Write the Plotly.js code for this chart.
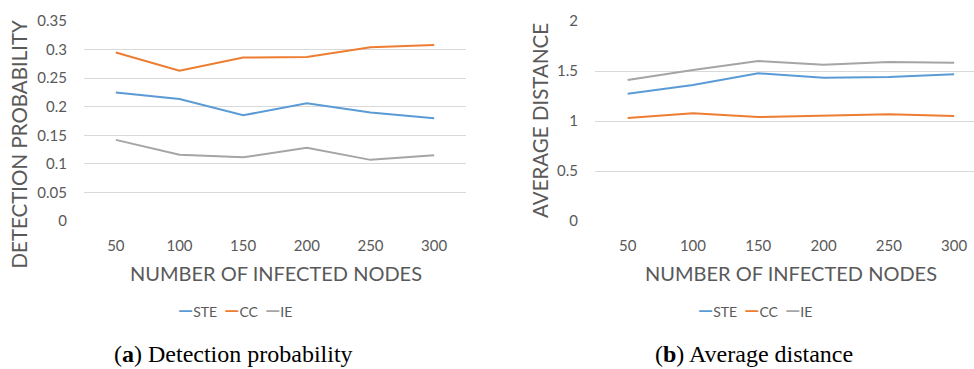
<!DOCTYPE html>
<html>
<head>
<meta charset="utf-8">
<script src="https://cdn.plot.ly/plotly-3.0.1.min.js"></script>
<style>html,body{margin:0;padding:0;background:#fff;}#chart{width:974px;height:369px;}</style>
</head>
<body>
<div id="chart"></div>
<script>
var categories = ["50", "100", "150", "200", "250", "300"];
var seriesNames = ["STE", "CC", "IE"];
var seriesColors = ["#5B9BD5", "#ED7D31", "#A5A5A5"];

// (a) Detection probability
var probSTE = [0.225, 0.2135, 0.185, 0.206, 0.190, 0.180];
var probCC  = [0.295, 0.263, 0.286, 0.287, 0.304, 0.308];
var probIE  = [0.142, 0.116, 0.1115, 0.128, 0.107, 0.115];

// (b) Average distance
var distSTE = [1.273, 1.36, 1.477, 1.433, 1.44, 1.467];
var distCC  = [1.03, 1.077, 1.04, 1.057, 1.067, 1.05];
var distIE  = [1.41, 1.51, 1.60, 1.563, 1.59, 1.583];

var probTicks = [0, 0.05, 0.1, 0.15, 0.2, 0.25, 0.3, 0.35];
var distTicks = [0, 0.5, 1, 1.5, 2];

var xTitle = "NUMBER OF INFECTED NODES";
var yTitleA = "DETECTION PROBABILITY";
var yTitleB = "AVERAGE DISTANCE";
var captionA = "(<b>a</b>) Detection probability";
var captionB = "(<b>b</b>) Average distance";

var W = 974, H = 369;
var textColor = "#595959";
var gridColor = "#D9D9D9";
var sans = "Lato, 'Open Sans', sans-serif";
var serif = "'Liberation Serif', 'DejaVu Serif', serif";

function px(x) { return x / W; }
function py(y) { return 1 - y / H; }

var probSets = [probSTE, probCC, probIE];
var distSets = [distSTE, distCC, distIE];
var traces = [];
probSets.forEach(function (vals, i) {
  traces.push({x: categories, y: vals, type: "scatter", mode: "lines", name: seriesNames[i],
    line: {color: seriesColors[i], width: 2}, xaxis: "x", yaxis: "y", showlegend: false, hoverinfo: "x+y+name"});
});
distSets.forEach(function (vals, i) {
  traces.push({x: categories, y: vals, type: "scatter", mode: "lines", name: seriesNames[i],
    line: {color: seriesColors[i], width: 2}, xaxis: "x2", yaxis: "y2", showlegend: false, hoverinfo: "x+y+name"});
});

function legendText() {
  return seriesNames.map(function (n, i) {
    return "<span style='color:" + seriesColors[i] + ";font-size:19px;font-weight:bold'>\u2014</span>" + n;
  }).join("&nbsp;&nbsp;");
}

var plotTop = 21, plotBottom = 221;
var yDomain = [py(plotBottom), py(plotTop)];

var axisFont = {family: sans, size: 15, color: textColor};
var layout = {
  width: W, height: H,
  margin: {l: 0, r: 0, t: 0, b: 0},
  paper_bgcolor: "#fff", plot_bgcolor: "#fff",
  showlegend: false,
  xaxis: {domain: [px(84), px(466)], type: "category", range: [-0.5, 5.5], showgrid: false,
    showline: false, zeroline: false, ticks: "", tickfont: axisFont, ticklabelstandoff: 14, anchor: "y", fixedrange: true},
  yaxis: {domain: yDomain, range: [0, 0.35], tickvals: probTicks, showgrid: true, gridcolor: gridColor, gridwidth: 1,
    zeroline: false, showline: false, ticks: "", tickfont: axisFont, ticklabelstandoff: 16, anchor: "x", fixedrange: true},
  xaxis2: {domain: [px(595), 1], type: "category", range: [-0.5, 5.304], showgrid: false,
    showline: false, zeroline: false, ticks: "", tickfont: axisFont, ticklabelstandoff: 14, anchor: "y2", fixedrange: true},
  yaxis2: {domain: yDomain, range: [0, 2], tickvals: distTicks, showgrid: true, gridcolor: gridColor, gridwidth: 1,
    zeroline: false, showline: false, ticks: "", tickfont: axisFont, ticklabelstandoff: 16, anchor: "x2", fixedrange: true},
  annotations: [
    {text: xTitle, xref: "paper", yref: "paper", x: px(275.5), y: py(272.7), xanchor: "center", yanchor: "middle",
      showarrow: false, font: {family: sans, size: 20, color: textColor}},
    {text: xTitle, xref: "paper", yref: "paper", x: px(790.8), y: py(272.7), xanchor: "center", yanchor: "middle",
      showarrow: false, font: {family: sans, size: 20, color: textColor}},
    {text: yTitleA, xref: "paper", yref: "paper", x: px(18), y: py(144.5), xanchor: "center", yanchor: "middle",
      textangle: -90, showarrow: false, font: {family: sans, size: 20.5, color: textColor}},
    {text: yTitleB, xref: "paper", yref: "paper", x: px(540), y: py(121), xanchor: "center", yanchor: "middle",
      textangle: -90, showarrow: false, font: {family: sans, size: 20.5, color: textColor}},
    {text: legendText(), xref: "paper", yref: "paper", x: px(235), y: py(309), xanchor: "center", yanchor: "middle",
      showarrow: false, font: {family: sans, size: 14, color: textColor}},
    {text: legendText(), xref: "paper", yref: "paper", x: px(755), y: py(309), xanchor: "center", yanchor: "middle",
      showarrow: false, font: {family: sans, size: 14, color: textColor}},
    {text: captionA, xref: "paper", yref: "paper", x: px(233.5), y: 0, xanchor: "center", yanchor: "bottom",
      showarrow: false, font: {family: serif, size: 24, color: "#000"}},
    {text: captionB, xref: "paper", yref: "paper", x: px(754), y: 0, xanchor: "center", yanchor: "bottom",
      showarrow: false, font: {family: serif, size: 24, color: "#000"}}
  ]
};

Plotly.newPlot("chart", traces, layout, {displayModeBar: false, staticPlot: true});
</script>
</body>
</html>
